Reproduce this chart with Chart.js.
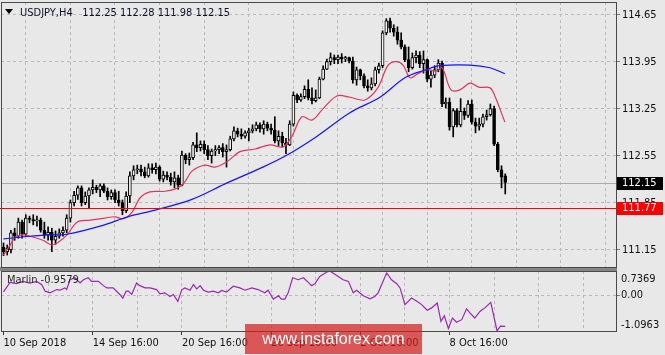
<!DOCTYPE html>
<html><head><meta charset="utf-8">
<script src="https://cdn.jsdelivr.net/npm/chart.js@4.4.0/dist/chart.umd.min.js"></script>
<style>
html,body{margin:0;padding:0;background:#e8e8e8;width:665px;height:355px;overflow:hidden;position:relative;}
canvas{position:absolute;left:0;}
#main{top:0;}
#ind{top:269px;}
#band{position:absolute;left:0;top:267px;width:617px;height:4px;background:#858585;}
.txt{position:absolute;font-family:"DejaVu Sans Condensed","DejaVu Sans",sans-serif;font-size:11px;line-height:12px;white-space:pre;}
#tri{position:absolute;left:5px;top:9px;width:0;height:0;border-left:4px solid transparent;border-right:4px solid transparent;border-top:5px solid #000;}
#hdr{left:20px;top:7px;color:#10102a;}
#mlab{left:7px;top:274px;color:#2a2a2a;}
#wm{position:absolute;left:245px;top:324px;width:177px;height:30px;background:rgba(210,30,30,0.72);color:#fff;font-family:"Liberation Sans",Arial,sans-serif;font-size:16px;line-height:30px;text-align:center;}
</style></head><body>
<div id="band"></div>
<canvas id="main" width="665" height="268"></canvas>
<canvas id="ind" width="665" height="86"></canvas>
<div id="tri"></div>
<div id="hdr" class="txt"></div>
<div id="mlab" class="txt"></div>
<div id="wm">www.instaforex.com</div>
<script>
// ---- data (H4 candles, bar index 0 = 10 Sep 2018 16:00) ----
const symbol = 'USDJPY,H4';
const opens  = [111.19,111.12,111.15,111.40,111.35,111.56,111.38,111.62,111.60,111.58,111.59,111.44,111.37,111.41,111.29,111.35,111.40,111.44,111.62,111.85,111.96,112.07,111.85,111.95,112.04,112.08,112.04,112.10,112.02,111.94,112.00,111.89,111.85,111.73,111.95,112.25,112.34,112.35,112.31,112.25,112.37,112.34,112.38,112.20,112.26,112.23,112.16,112.22,112.11,112.56,112.49,112.52,112.71,112.67,112.72,112.64,112.55,112.62,112.64,112.67,112.61,112.64,112.80,112.92,112.87,112.84,112.89,112.92,112.95,113.01,112.95,113.02,112.96,112.93,112.77,112.84,112.74,112.71,113.02,113.45,113.38,113.43,113.54,113.41,113.37,113.41,113.69,113.84,113.95,114.01,113.98,114.02,113.99,114.01,113.96,113.68,113.83,113.74,113.59,113.56,113.62,113.83,113.89,114.38,114.56,114.45,114.39,114.27,114.17,113.98,113.86,114.01,114.05,113.92,113.98,113.69,113.75,113.83,113.93,113.32,113.35,112.98,113.22,113.01,113.21,113.15,113.32,113.05,112.99,113.02,113.13,113.16,113.25,112.72,112.34,112.25];
const highs  = [111.25,111.22,111.44,111.47,111.62,111.59,111.67,111.65,111.67,111.65,111.62,111.56,111.49,111.47,111.43,111.46,111.49,111.67,111.89,112.02,112.10,112.10,112.01,112.07,112.19,112.11,112.13,112.13,112.07,112.04,112.04,112.02,111.89,112.01,112.31,112.40,112.41,112.41,112.38,112.43,112.43,112.44,112.40,112.32,112.31,112.29,112.31,112.26,112.62,112.58,112.59,112.75,112.89,112.77,112.77,112.70,112.65,112.70,112.70,112.73,112.71,112.84,112.98,112.96,112.95,112.92,112.96,113.01,113.05,113.04,113.07,113.05,113.02,113.13,112.92,112.90,112.81,113.07,113.50,113.47,113.47,113.59,113.68,113.56,113.53,113.72,113.89,113.99,114.08,114.05,114.05,114.07,114.03,114.02,114.02,113.87,113.84,113.77,113.68,113.71,113.87,113.93,114.41,114.59,114.60,114.50,114.47,114.38,114.20,114.17,114.08,114.11,114.10,114.11,113.99,113.81,113.89,113.98,113.96,113.41,113.41,113.25,113.25,113.40,113.26,113.37,113.38,113.11,113.11,113.17,113.23,113.32,113.29,112.75,112.40,112.28];
const lows   = [111.06,111.07,111.10,111.29,111.32,111.32,111.35,111.55,111.52,111.50,111.41,111.32,111.29,111.12,111.23,111.32,111.35,111.40,111.56,111.80,111.90,111.80,111.82,111.76,111.98,112.00,111.94,112.00,111.89,111.90,111.85,111.80,111.67,111.70,111.85,112.19,112.28,112.25,112.22,112.23,112.29,112.28,112.17,112.16,112.19,112.11,112.07,112.05,112.10,112.43,112.41,112.49,112.61,112.62,112.58,112.49,112.44,112.55,112.58,112.53,112.38,112.62,112.77,112.83,112.80,112.81,112.77,112.89,112.92,112.90,112.87,112.92,112.87,112.74,112.70,112.68,112.58,112.70,112.99,113.34,113.36,113.40,113.38,113.32,113.35,113.40,113.68,113.83,113.90,113.92,113.92,113.93,113.95,113.93,113.63,113.60,113.68,113.56,113.51,113.53,113.59,113.78,113.86,114.35,114.39,114.33,114.21,114.14,113.95,113.80,113.84,113.93,113.86,113.78,113.65,113.57,113.71,113.80,113.28,113.26,112.93,112.83,112.98,112.98,113.09,113.12,113.02,112.89,112.93,112.98,113.08,113.14,112.70,112.31,112.07,111.98];
const closes = [111.12,111.17,111.40,111.35,111.56,111.38,111.62,111.60,111.58,111.59,111.44,111.37,111.41,111.29,111.35,111.40,111.44,111.62,111.85,111.96,112.07,111.85,111.95,112.04,112.08,112.04,112.10,112.02,111.94,112.00,111.89,111.85,111.73,111.95,112.25,112.34,112.35,112.31,112.25,112.37,112.34,112.38,112.20,112.26,112.23,112.16,112.22,112.11,112.56,112.49,112.52,112.71,112.67,112.72,112.64,112.55,112.62,112.64,112.67,112.61,112.64,112.80,112.92,112.87,112.84,112.89,112.92,112.95,113.01,112.95,113.02,112.96,112.93,112.77,112.84,112.74,112.71,113.02,113.45,113.38,113.43,113.54,113.41,113.37,113.41,113.69,113.84,113.95,114.01,113.98,114.02,113.99,114.01,113.96,113.68,113.83,113.74,113.59,113.56,113.62,113.83,113.89,114.38,114.56,114.45,114.39,114.27,114.17,113.98,113.86,114.01,114.05,113.92,113.98,113.69,113.75,113.83,113.93,113.32,113.35,112.98,113.22,113.01,113.21,113.15,113.32,113.05,112.99,113.02,113.13,113.16,113.25,112.72,112.34,112.23,112.15];

// moving averages read at sample bars
const maFastIdx = [0,1.7,3.1,5.0,7.1,10.6,13.0,14.7,17.1,19.8,23.3,27.3,30.0,32.2,34.6,36.7,39.4,43.4,46.9,48.8,50.7,54.2,56.9,60.1,63.6,67.7,71.7,75.2,77.6,80.3,83.0,86.0,89.7,93.2,97.2,100.7,103.4,105.6,107.5,109.4,111.5,113.9,116.4,118.0,120.4,122.8,125.5,127.9,130.9,132.2,134.9];
const maFastVal = [111.07,111.21,111.33,111.37,111.35,111.29,111.22,111.26,111.37,111.56,111.59,111.62,111.64,111.61,111.71,111.92,112.01,112.02,112.07,112.16,112.32,112.41,112.38,112.46,112.61,112.65,112.71,112.68,112.84,113.13,113.08,113.25,113.44,113.42,113.38,113.56,113.89,113.95,113.90,113.71,113.77,113.83,113.81,113.86,113.53,113.53,113.63,113.57,113.56,113.44,113.05];
const maSlowIdx = [0,7.1,12.5,17.1,26.0,34.0,40.8,50.7,59.6,69.8,76.3,84.1,93.2,101.3,108.0,113.7,117.4,125.5,130.9,134.9];
const maSlowVal = [111.31,111.35,111.37,111.38,111.50,111.65,111.74,111.90,112.13,112.38,112.56,112.83,113.19,113.42,113.71,113.83,113.89,113.90,113.86,113.77];

// Marlin oscillator read at sample bars
const marlinIdx = [0,1.75,3.5,5.3,7.1,8.9,10.3,11.2,12.5,13.4,14.3,15.2,16.5,17,17.9,19.2,20.6,21.5,22.8,23.7,25.5,26.9,27.8,29.5,31.3,32.1,33,33.6,34.5,35.8,36.7,38.1,39.4,41.2,42.1,43.4,44.8,45.7,46.9,48,48.8,50.2,51.1,52,52.9,53.8,55.1,56.4,57.8,58.7,60,61.8,63.6,65,66.8,68.5,70.3,71.2,72.6,74,74.8,75.7,76.6,77.8,79.3,80.7,82,82.9,83.8,85.1,86.9,87.8,91.4,92.8,94.1,95,96.8,98.6,99.9,100.8,103.1,104.4,105.8,106.7,108,109.8,111.2,112.5,114,115.2,116.7,117.7,118.6,119.7,120.8,121.9,123.3,124.6,125.5,126.8,128.2,129.5,131.1,132.8,133.7,135];
const marlinVal = [0.10,0.39,0.35,0.42,0.37,0.42,0.32,0.12,0.07,0.12,0.17,0.15,0.22,0.17,0.47,0.53,0.37,0.47,0.53,0.42,0.42,0.29,0.22,0.22,0.02,-0.09,0.12,0.12,0.02,0.37,0.29,0.22,0.22,0.17,0.04,0.07,-0.04,0.02,-0.19,0.17,0.22,0.15,0.32,0.19,0.29,0.15,0.09,0.12,0.07,0.14,0.09,0.27,0.22,0.15,0.22,0.17,0.07,0.15,-0.12,-0.02,-0.12,-0.12,0.07,0.53,0.47,0.53,0.39,0.29,0.35,0.57,0.70,0.7369,0.47,0.42,0.07,0.15,-0.02,-0.11,-0.04,0.07,0.68,0.47,0.35,0.22,-0.29,-0.09,-0.19,-0.29,-0.46,-0.39,-0.24,-0.80,-0.63,-1.02,-0.70,-0.83,-0.75,-0.42,-0.54,-0.70,-0.50,-0.39,-0.22,-1.0963,-0.95,-0.9579];
const marlinName = 'Marlin';
const marlinMax = 0.7369, marlinMin = -1.0963;

const yTickVals   = [111.15,111.85,112.55,113.25,113.95,114.65];
const yTickLabels = ['111.15','111.85','112.55','113.25','113.95','114.65'];
const xLabelIdx = [0,24,48,72,96,120];
const xLabels   = ['10 Sep 2018','14 Sep 16:00','20 Sep 16:00','26 Sep 16:00','2 Oct 16:00','8 Oct 16:00'];
const gridIdx   = [12,24,36,48,60,72,84,96,108,120,132,144,156];
const currentPrice = 112.15;
const levelPrice = 111.77;

// ---- view ----
const X_MIN = -0.673, X_MAX = 164.8;
const P_MIN = 110.892, P_MAX = 114.839;
const FONT = '"DejaVu Sans Condensed","DejaVu Sans",sans-serif';
Chart.defaults.font.family = FONT;
Chart.defaults.font.size = 11;

const last = opens.length - 1;
document.getElementById('hdr').textContent = symbol + '   ' + [opens[last],highs[last],lows[last],closes[last]].map(v=>v.toFixed(2)).join(' ');
document.getElementById('mlab').textContent = marlinName + ' ' + marlinVal[marlinVal.length-1].toFixed(4);

const idx = opens.map((_, i) => i);
const wickData = idx.map(i => ({x: i, y: [lows[i], highs[i]]}));
const bodyData = idx.map(i => ({x: i, y: [opens[i], closes[i]]}));
const bodyFill = idx.map(i => closes[i] >= opens[i] ? '#f2f2f2' : '#000000');

const GRID = '#b9b9b9';
const noPad = s => { s.paddingTop = 0; s.paddingBottom = 0; s.paddingLeft = 0; s.paddingRight = 0; };

const mainMarks = {
  id: 'mainMarks',
  beforeDatasetsDraw(chart) {
    const {ctx, chartArea: a, scales: {y}} = chart;
    const py = Math.round(y.getPixelForValue(currentPrice)) + 0.5;
    ctx.save();
    ctx.strokeStyle = '#ababab'; ctx.lineWidth = 1;
    ctx.beginPath(); ctx.moveTo(a.left, py); ctx.lineTo(a.right, py); ctx.stroke();
    ctx.restore();
  },
  afterDatasetsDraw(chart) {
    const {ctx, chartArea: a, scales: {y}} = chart;
    const py = Math.round(y.getPixelForValue(levelPrice)) + 0.5;
    ctx.save();
    ctx.strokeStyle = '#ff0000'; ctx.lineWidth = 1;
    ctx.beginPath(); ctx.moveTo(0, py); ctx.lineTo(a.right, py); ctx.stroke();
    ctx.restore();
  },
  afterDraw(chart) {
    const {ctx, chartArea: a, scales: {y}} = chart;
    ctx.save();
    ctx.strokeStyle = '#4a4a4a'; ctx.lineWidth = 1;
    ctx.strokeRect(a.left + 0.5, a.top + 0.5, a.right - a.left, a.bottom - a.top);
    const box = (v, bg, fg) => {
      const py = Math.round(y.getPixelForValue(v));
      ctx.fillStyle = bg; ctx.fillRect(a.right + 1, py - 6, 46, 13);
      ctx.fillStyle = fg; ctx.font = '11px ' + FONT; ctx.textBaseline = 'middle'; ctx.textAlign = 'left';
      ctx.fillText(v.toFixed(2), a.right + 6, py + 0.5);
    };
    box(currentPrice, '#000000', '#ffffff');
    box(levelPrice, '#ff0000', '#ffffff');
    ctx.restore();
  }
};

new Chart(document.getElementById('main'), {
  type: 'bar',
  data: { datasets: [
    {type:'line', data: maSlowIdx.map((x,k)=>({x, y: maSlowVal[k]})), borderColor:'#1414ff', borderWidth:1.2, pointRadius:0, tension:0.35, order:0},
    {type:'line', data: maFastIdx.map((x,k)=>({x, y: maFastVal[k]})), borderColor:'#e0355c', borderWidth:1.2, pointRadius:0, tension:0.35, order:1},
    {type:'bar', data: bodyData, backgroundColor: bodyFill, borderColor:'#000', borderWidth:1, borderSkipped:false, barThickness:3, grouped:false, minBarLength:1, order:2},
    {type:'bar', data: wickData, backgroundColor:'#000', borderWidth:0, barThickness:1, grouped:false, order:3}
  ]},
  options: {
    responsive:false, animation:false, devicePixelRatio:1, events:[],
    layout:{padding:{left:1, top:2, right:0, bottom:1}},
    plugins:{legend:{display:false}, tooltip:{enabled:false}},
    scales:{
      x:{type:'linear', min:X_MIN, max:X_MAX, offset:false,
         afterBuildTicks:s=>{s.ticks = gridIdx.map(v=>({value:v}));},
         afterFit:s=>{s.height = 0; noPad(s);},
         ticks:{display:false}, grid:{color:GRID, drawTicks:false}, border:{display:false, dash:[3,3]}},
      y:{position:'right', min:P_MIN, max:P_MAX,
         afterBuildTicks:s=>{s.ticks = yTickVals.map(v=>({value:v}));},
         afterFit:s=>{s.width = 49; noPad(s);},
         ticks:{autoSkip:false, padding:2, color:'#111', font:{size:11}, callback:(v,i)=>yTickLabels[i]},
         grid:{color:GRID, tickLength:4, tickColor:'#777'}, border:{display:false, dash:[3,3]}}
    }
  },
  plugins:[mainMarks]
});

const indMarks = {
  id:'indMarks',
  afterDraw(chart){
    const {ctx, chartArea:a} = chart;
    ctx.save();
    ctx.strokeStyle = '#4a4a4a'; ctx.lineWidth = 1;
    ctx.strokeRect(a.left + 0.5, a.top + 0.5, a.right - a.left, a.bottom - a.top);
    ctx.fillStyle = '#111'; ctx.font = '11px ' + FONT; ctx.textBaseline = 'middle'; ctx.textAlign = 'left';
    ctx.fillText(marlinMax.toFixed(4), a.right + 5, a.top + 8.5);
    ctx.fillText(marlinMin.toFixed(4), a.right + 5, a.bottom - 5.5);
    ctx.restore();
  }
};

new Chart(document.getElementById('ind'), {
  type:'line',
  data:{datasets:[{data: marlinIdx.map((x,k)=>({x, y: marlinVal[k]})), borderColor:'#9b27b3', borderWidth:1.2, pointRadius:0, tension:0}]},
  options:{
    responsive:false, animation:false, devicePixelRatio:1, events:[],
    layout:{padding:{left:1, top:2, right:0, bottom:0}},
    plugins:{legend:{display:false}, tooltip:{enabled:false}},
    scales:{
      x:{type:'linear', min:X_MIN, max:X_MAX, offset:false,
         afterBuildTicks:s=>{s.ticks = [0].concat(gridIdx).map(v=>({value:v}));},
         afterFit:s=>{s.height = 24; noPad(s);},
         ticks:{autoSkip:false, maxRotation:0, minRotation:0, align:'start', padding:2, color:'#111', font:{size:11},
                callback:(v)=>{const k = xLabelIdx.indexOf(v); return k >= 0 ? xLabels[k] : '';}},
         grid:{color:c=> (c.tick && c.tick.value === 0) ? 'rgba(0,0,0,0)' : GRID, tickLength:4,
               tickColor:c=> (c.tick && xLabelIdx.includes(c.tick.value)) ? '#333' : 'rgba(0,0,0,0)'},
         border:{display:false, dash:[3,3]}},
      y:{position:'right', min:marlinMin, max:marlinMax,
         afterBuildTicks:s=>{s.ticks = [{value:0}];},
         afterFit:s=>{s.width = 49; noPad(s);},
         ticks:{autoSkip:false, padding:1, color:'#111', font:{size:11}, callback:()=> (0).toFixed(2)},
         grid:{color:GRID, tickLength:4, tickColor:'#777'}, border:{display:false, dash:[3,3]}}
    }
  },
  plugins:[indMarks]
});
</script>
</body></html>
